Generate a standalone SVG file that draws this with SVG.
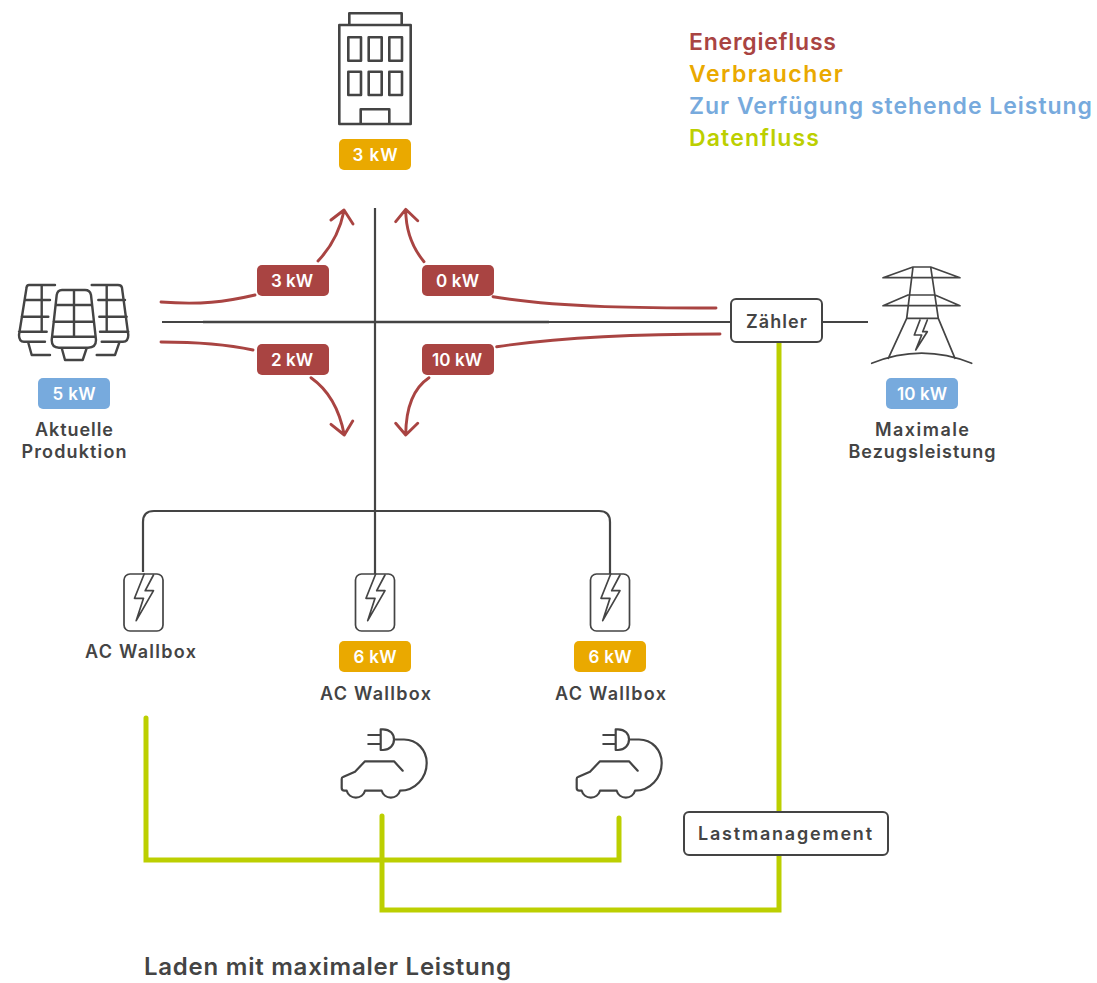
<svg xmlns="http://www.w3.org/2000/svg" width="1097" height="983" viewBox="0 0 1097 983">
<defs>
<style>
text{font-family:Inter,"Liberation Sans",sans-serif;font-weight:600;text-anchor:middle;fill:#444}
.l{font-size:18px}
.b{font-size:17px;fill:#fff}
.h{font-size:23px;text-anchor:start}
.i{fill:none;stroke:#444;stroke-width:2.4;stroke-linejoin:round;stroke-linecap:round}
.t{fill:none;stroke:#444;stroke-width:1.7;stroke-linejoin:round;stroke-linecap:round}
.w{fill:none;stroke:#444;stroke-width:2.2}
.r{fill:none;stroke:#a94442;stroke-width:2.9;stroke-linecap:round;stroke-linejoin:round}
.g{fill:none;stroke:#bccf00;stroke-width:5;stroke-linecap:round;stroke-linejoin:miter}
.box{fill:#fff;stroke:#444;stroke-width:2}
</style>
<g id="wb"><rect x="-19.500" y="574" width="39" height="57" rx="6" class="t"/><path class="t" d="M0.700 574L-9 598.300H0L-7.300 620.700L10 590.700H1.700L10 575"/></g>
<g id="car"><path class="i" style="stroke-width:2.2" d="M368.300 735H380.700M368.300 744H380.700M380.700 729.300V750H383C390 750 394 745 394 739.500C394 734 390 729.300 383 729.300ZM394 739.500H404C417 739.500 426.700 750 426.700 763C426.700 778 415 790.700 400 790.700A9.500 9.500 0 0 1 381.700 790.700H365A9.500 9.500 0 0 1 346.700 790.700H344.500Q341.700 790.700 341.700 788V779Q341.700 777.300 343 777L355 771.700L365 761.300H394L402.700 770.700"/></g>
</defs>
<rect width="1097" height="983" fill="#fff"/>

<g id="connectors">
<path class="w" d="M375 208V574M162 322H731M822 322H868M143 572V522Q143 511 154 511H599Q610 511 610 522V574"/>
<path class="w" style="stroke-width:2.700" d="M203 322H549"/>
<path class="r" d="M161 302C200 305 225 302 255 295M318 261Q338 240 344 211M331 220L344 210L353 224M493 296.700C560 308 650 308 716 308M424 261.700Q406 240 405.700 210M395.700 221.700L405.700 209.300L417.700 220.700M161 342C195 342 225 344 253 350M311 377.700Q337 396 344.300 435M331 424.300L344.300 435L352.700 421M496.700 346.700C570 336 650 334 720 334M429 377.700Q406 393 405.700 435M395.700 423.300L405.700 435L417.700 423.300"/>
<path class="g" d="M146 718V860H619V818M382 816V910H779V343"/>
</g>

<g id="legend">
<text class="h" x="689" y="50" textLength="147" style="fill:#a94442">Energiefluss</text>
<text class="h" x="689" y="82" textLength="154" style="fill:#eaa900">Verbraucher</text>
<text class="h" x="689" y="114" textLength="403" style="fill:#77aadd">Zur Verfügung stehende Leistung</text>
<text class="h" x="689" y="146" textLength="130" style="fill:#bccf00">Datenfluss</text>
</g>

<g id="building">
<path class="i" style="stroke-width:2.600" d="M349.300 25V13.300H401.700V25M339.300 25H410.700V124H339.300ZM348.300 37.300H361V60.700H348.300ZM368.700 37.300H381.700V60.700H368.700ZM389.300 37.300H402V60.700H389.300ZM348.300 71.700H361V95H348.300ZM368.700 71.700H381.700V95H368.700ZM389.300 71.700H402V95H389.300ZM360.700 124V109.300H389.300V124"/>
<rect x="339" y="139" width="72" height="31" rx="5" fill="#eaa900"/>
<text class="b" x="375" y="161" textLength="45">3 kW</text>
</g>

<g id="solar">
<path class="i" d="M55 285H29Q26.700 285 26.500 288L19 335Q19 341.700 24 341.700H45M41.700 285V331.700M25 300H50M21.700 316.700H48.300M19 331.700H46.700M28.300 342.700L31.700 355H50M91.700 285H118Q121.700 285 122 288L128.300 335Q128.300 341.700 123 341.700H101.700M106.700 285V331.700M98.300 300H125M99.300 316.700H126.700M100 331.700H128.300M119.300 342.700L115 355H96.700"/>
<path class="i" d="M62 290H85Q90 290 91 295L96 340Q96 347.700 88 347.700H59Q51.700 347.700 51.700 340L56.700 295Q57.500 290 62 290ZM74 290V336.700M55.500 305H92M53.500 321.700H94M52 336.700H95.500M61.700 348L65 360H82.700L86.700 348"/>
<rect x="38" y="378" width="72" height="31" rx="5" fill="#77aadd"/>
<text class="b" x="74" y="400" textLength="43">5 kW</text>
<text class="l" x="74" y="436" textLength="78">Aktuelle</text>
<text class="l" x="74" y="458" textLength="105">Produktion</text>
</g>

<g id="pylon">
<path class="t" d="M883 277.700L913 267H930.700L960 277.700ZM883 305.700L908 295H935L960 305.700ZM913 267L906.700 318.300M930.700 267L938.300 318.300M906.700 318.300H938.300M906.700 318.300L888.300 358.300M938.300 318.300L955 358.300M871.700 363.300Q921.700 343 971.700 363.300"/>
<path class="t" d="M920 320L914.300 335H921.700L915.700 350L927.300 331.700H922.700L927.300 320"/>
<rect x="886" y="378" width="72" height="31" rx="5" fill="#77aadd"/>
<text class="b" x="922" y="400" textLength="50">10 kW</text>
<text class="l" x="922" y="436" textLength="94">Maximale</text>
<text class="l" x="922" y="458" textLength="147">Bezugsleistung</text>
</g>

<g id="zaehler">
<rect class="box" x="731" y="299" width="91" height="43" rx="5"/>
<text class="l" x="776.500" y="328" textLength="61">Zähler</text>
</g>

<g id="label-3kw"><rect x="257" y="265" width="72" height="31" rx="5" fill="#a94442"/><text class="b" x="292" y="287" textLength="42">3 kW</text></g>
<g id="label-0kw"><rect x="422" y="265" width="72" height="31" rx="5" fill="#a94442"/><text class="b" x="457.500" y="287" textLength="43">0 kW</text></g>
<g id="label-2kw"><rect x="257" y="344" width="72" height="31" rx="5" fill="#a94442"/><text class="b" x="292" y="366" textLength="42">2 kW</text></g>
<g id="label-10kw"><rect x="422" y="344" width="72" height="31" rx="5" fill="#a94442"/><text class="b" x="457" y="366" textLength="50">10 kW</text></g>

<g id="wallbox-1"><use href="#wb" x="143.500"/><text class="l" x="140.500" y="658" textLength="111">AC Wallbox</text></g>
<g id="wallbox-2"><use href="#wb" x="375"/><rect x="339" y="641" width="72" height="31" rx="5" fill="#eaa900"/><text class="b" x="375" y="663" textLength="43">6 kW</text><text class="l" x="375.500" y="700" textLength="111">AC Wallbox</text></g>
<g id="wallbox-3"><use href="#wb" x="610"/><rect x="574" y="641" width="72" height="31" rx="5" fill="#eaa900"/><text class="b" x="610" y="663" textLength="43">6 kW</text><text class="l" x="610.500" y="700" textLength="111">AC Wallbox</text></g>

<g id="car-1"><use href="#car"/></g>
<g id="car-2"><use href="#car" x="235"/></g>

<g id="lastmanagement">
<rect class="box" x="684" y="812" width="204" height="43" rx="5"/>
<text class="l" x="785" y="840" textLength="174">Lastmanagement</text>
</g>

<text id="caption" x="144" y="975" textLength="367" style="font-size:24px;text-anchor:start">Laden mit maximaler Leistung</text>
</svg>
